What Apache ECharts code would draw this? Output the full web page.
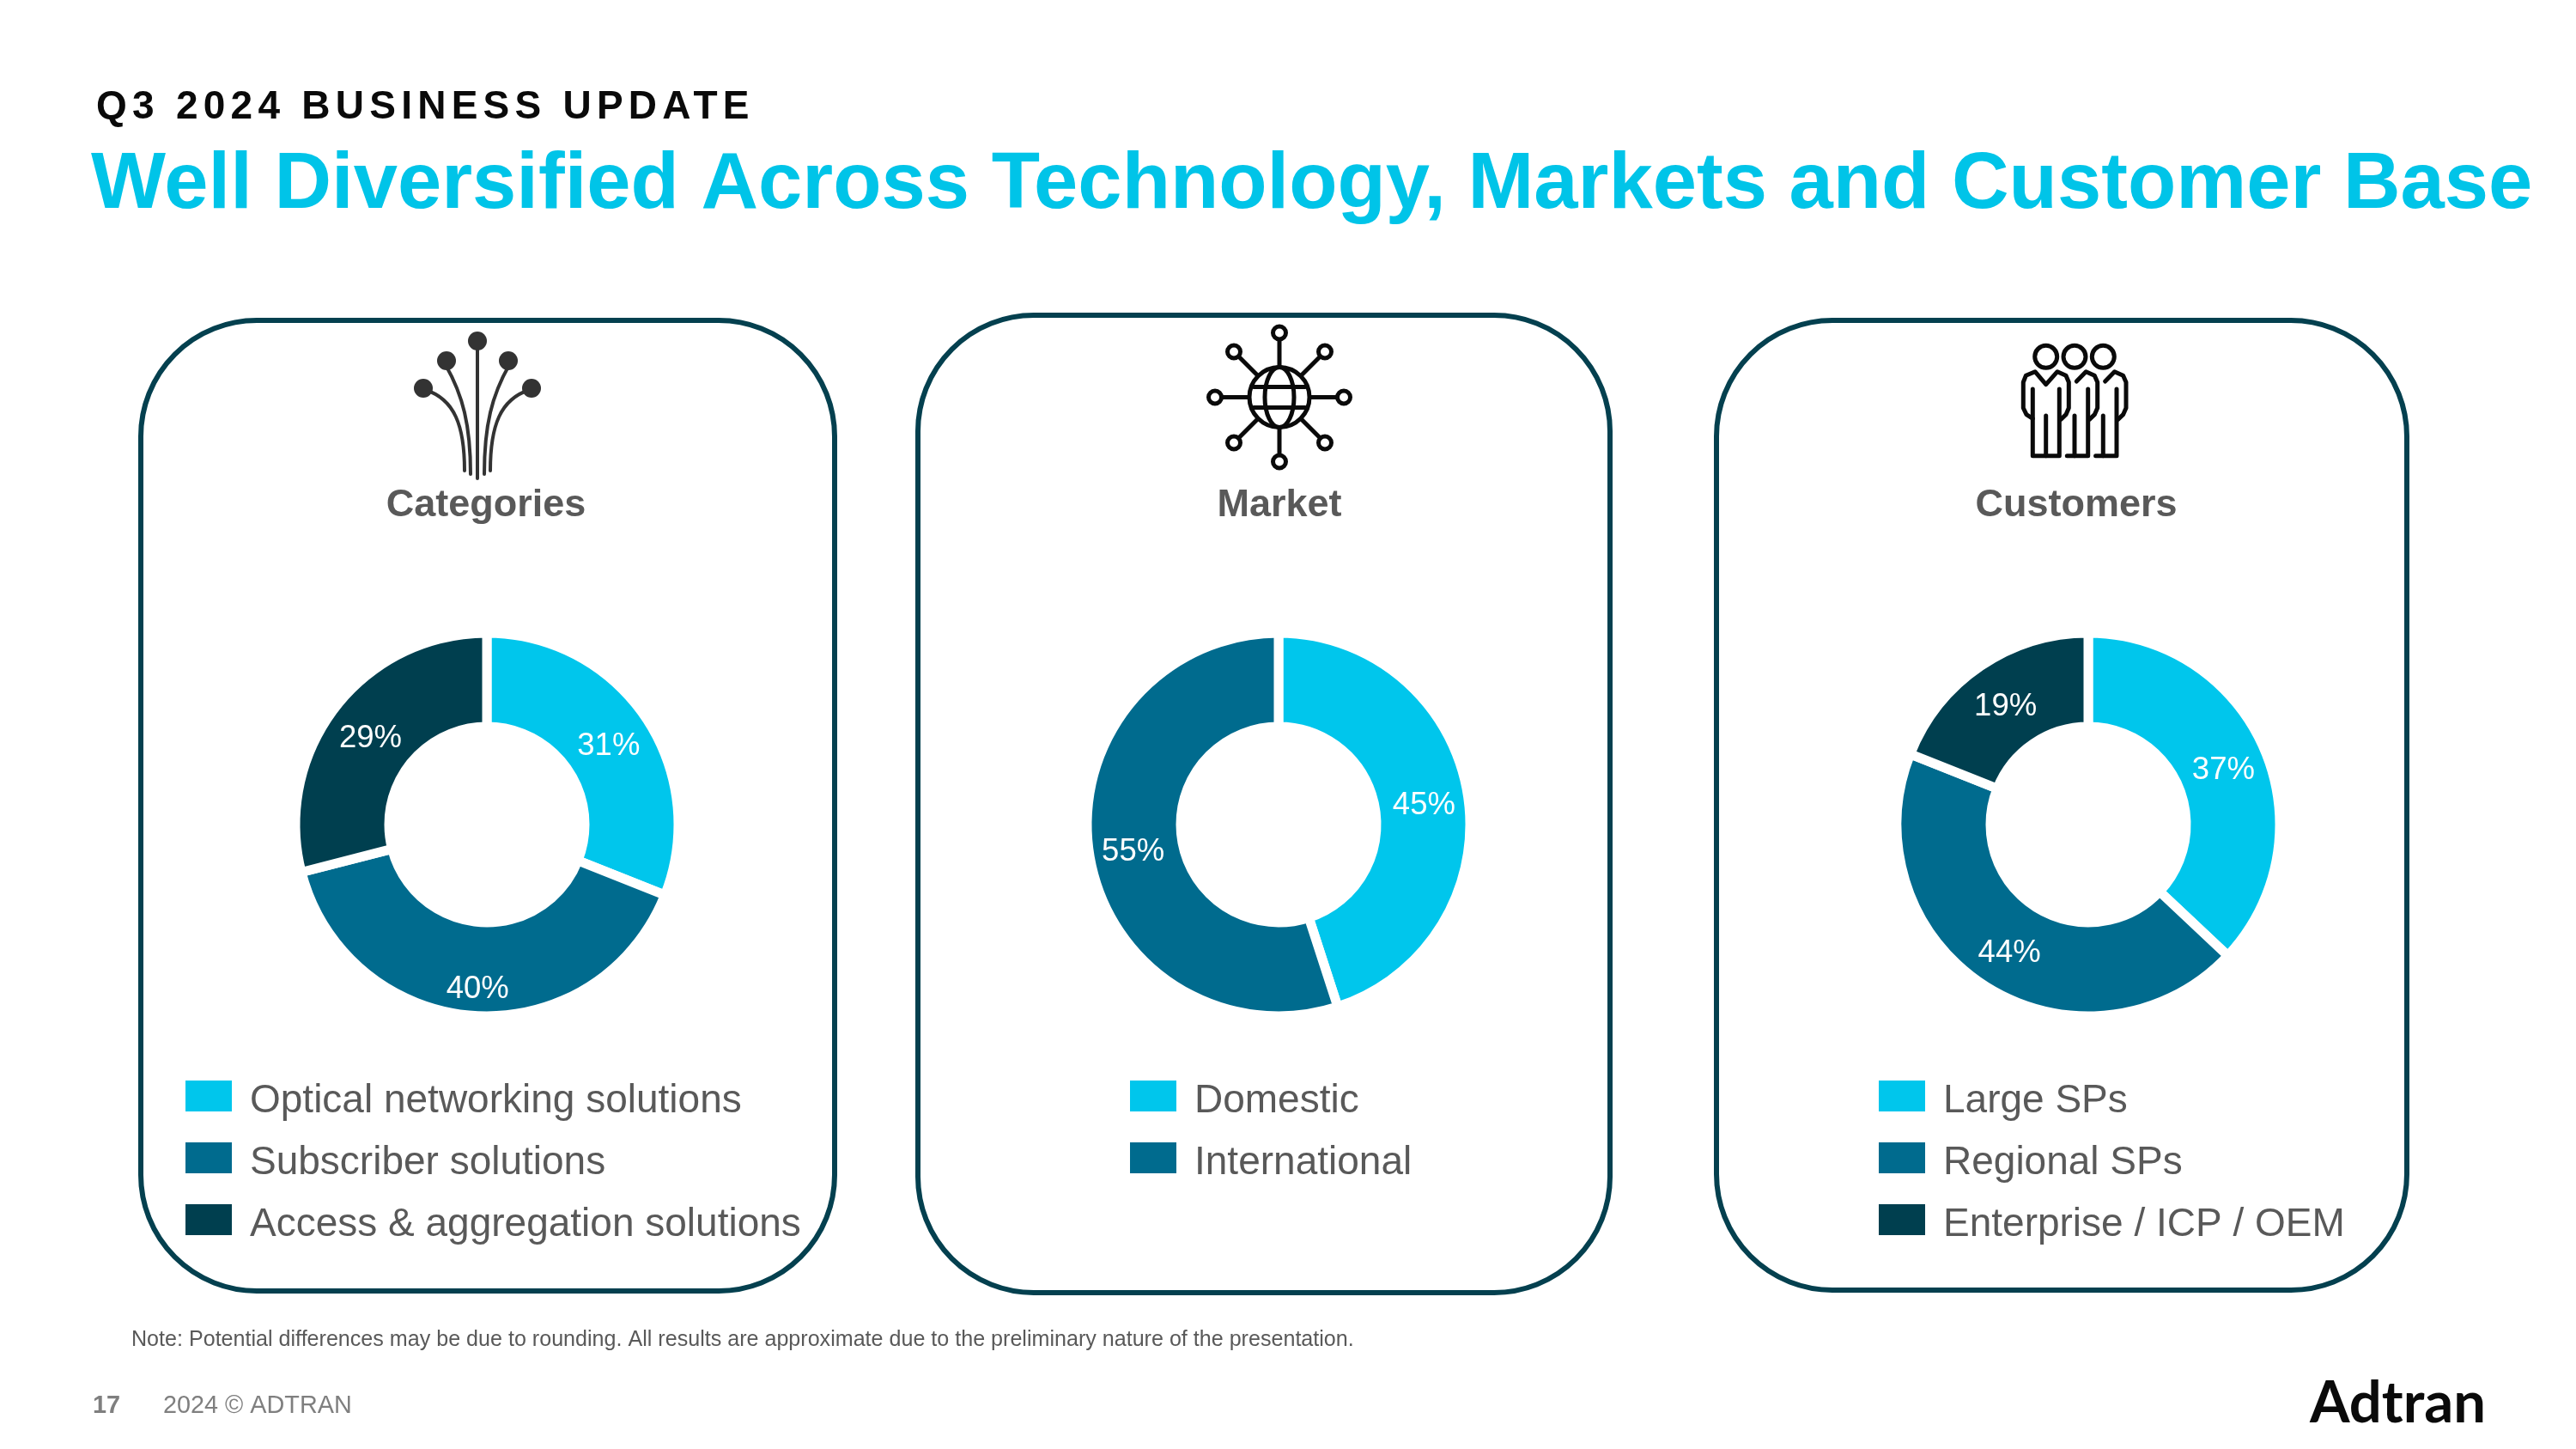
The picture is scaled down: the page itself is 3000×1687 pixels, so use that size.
<!DOCTYPE html>
<html>
<head>
<meta charset="utf-8">
<title>Q3 2024 Business Update</title>
<style>
  html, body { margin: 0; padding: 0; background: #fff; }
  #chart { width: 3000px; height: 1687px; }
  #kicker {
    position: absolute; left: 112px; top: 95px; margin: 0; z-index: 2;
    font: bold 46px "Liberation Sans", Arial, sans-serif;
    letter-spacing: 6.25px; color: #0a0a0a; white-space: nowrap;
  }
</style>
<script src="https://cdn.jsdelivr.net/npm/echarts@6/dist/echarts.min.js"></script>
</head>
<body>
<div id="kicker">Q3 2024 BUSINESS UPDATE</div>
<div id="chart"></div>
<script>
// values
const categoryNames = ['Optical networking solutions', 'Subscriber solutions', 'Access & aggregation solutions']
const categoryValues = [31, 40, 29]
const marketNames = ['Domestic', 'International']
const marketValues = [45, 55]
const customerNames = ['Large SPs', 'Regional SPs', 'Enterprise / ICP / OEM']
const customerValues = [37, 44, 19]
const panelTitles = ['Categories', 'Market', 'Customers']

const CYAN = '#00c6ec'
const MID = '#006b8e'
const DARK = '#003f4f'
const GRAY = '#595959'
const FONT = '"Liberation Sans", Arial, sans-serif'

const pieColors = [CYAN, MID, DARK]
const pieCenters = [[567, 960], [1489, 960], [2432, 960]]
const legendLefts = [216, 1316, 2188]
const titleCenters = [566, 1490, 2418]

const toData = (names, values) => names.map((name, i) => ({
  name,
  value: values[i],
  itemStyle: { color: pieColors[i] }
}))

const pieSeries = (names, values, i) => ({
  type: 'pie',
  center: pieCenters[i],
  radius: [114, 223],
  startAngle: 90,
  clockwise: true,
  silent: true,
  animation: false,
  avoidLabelOverlap: false,
  itemStyle: { borderColor: '#fff', borderWidth: 11 },
  label: {
    show: true,
    position: 'inside',
    formatter: '{c}%',
    color: '#fff',
    fontFamily: FONT,
    fontSize: 36.5
  },
  // the slide's labels sit a little below the ring's middle, the 40% one more so
  labelLayout: params => ({ dy: params.seriesIndex === 0 && params.dataIndex === 1 ? 21 : 5 }),
  labelLine: { show: false },
  emphasis: { disabled: true },
  data: toData(names, values)
})

const legendFor = (names, i) => ({
  orient: 'vertical',
  left: legendLefts[i],
  top: 1258,
  padding: 0,
  itemWidth: 54,
  itemHeight: 36,
  itemGap: 25,
  selectedMode: false,
  icon: 'rect',
  itemStyle: { borderWidth: 0 },
  // rich token: its top padding drops the text a bit below the swatch's middle
  formatter: '{t|{name}}',
  textStyle: {
    rich: {
      t: {
        color: GRAY,
        fontFamily: FONT,
        fontSize: 46,
        padding: [12, 0, 0, 16]
      }
    }
  },
  data: names
})

const titleFor = (text, i) => ({
  text,
  left: titleCenters[i],
  top: 566,
  textAlign: 'center',
  padding: 0,
  textStyle: { color: GRAY, fontFamily: FONT, fontSize: 45, fontWeight: 'bold' }
})

const panel = (x, y, width, height) => ({
  type: 'rect',
  shape: { x, y, width, height, r: 135 },
  style: { fill: 'none', stroke: '#04404f', lineWidth: 6 }
})

const lineStyle = (color, width) => ({
  fill: 'none', stroke: color, lineWidth: width, lineCap: 'round', lineJoin: 'round'
})

const poly = (points, color, width) => ({
  type: 'polyline',
  shape: { points },
  style: lineStyle(color, width)
})

const curve = (x1, y1, cpx1, cpy1, cpx2, cpy2, x2, y2) => ({
  type: 'bezierCurve',
  shape: { x1, y1, cpx1, cpy1, cpx2, cpy2, x2, y2 },
  style: lineStyle('#333', 4)
})

const ring = (cx, cy, r, color, width) => ({
  type: 'circle',
  shape: { cx, cy, r },
  style: { fill: '#fff', stroke: color, lineWidth: width }
})

const dot = (cx, cy) => ({
  type: 'circle',
  shape: { cx, cy, r: 11 },
  style: { fill: '#333' }
})

const label = (text, x, y, size, color, weight) => ({
  type: 'text',
  x,
  y,
  style: { text, fill: color, fontFamily: FONT, fontSize: size, fontWeight: weight || 'normal' }
})

// fibre icon above Categories
const fibreIcon = [
  curve(496, 454, 529, 465, 541, 495, 541, 548),
  curve(519, 425, 539, 460, 548, 495, 548, 552),
  poly([[556, 405], [556, 557]], '#333', 4),
  curve(593, 425, 573, 460, 564, 495, 564, 552),
  curve(616, 454, 583, 465, 571, 495, 571, 548),
  dot(556, 397), dot(520, 420), dot(592, 420), dot(493, 452), dot(619, 452)
]

// globe icon above Market
const globeIcon = (() => {
  const cx = 1490
  const cy = 462.5
  const k = '#0a0a0a'
  const spoke = (dx, dy) => poly([[cx + dx * 0.5, cy + dy * 0.5], [cx + dx, cy + dy]], k, 5)
  const items = []
  ;[[0, -68], [0, 68], [-68, 0], [68, 0], [-48, -48], [48, -48], [-48, 48], [48, 48]].forEach(d => items.push(spoke(d[0], d[1])))
  ;[[0, -75], [0, 75], [-75, 0], [75, 0], [-53, -53], [53, -53], [-53, 53], [53, 53]].forEach(d => items.push(ring(cx + d[0], cy + d[1], 7.5, k, 5)))
  items.push(
    ring(cx, cy, 35, k, 5),
    { type: 'ellipse', shape: { cx, cy, rx: 17, ry: 35 }, style: { fill: 'none', stroke: k, lineWidth: 5 } },
    poly([[cx - 30, cy - 12], [cx + 30, cy - 12]], k, 5),
    poly([[cx - 30, cy + 12], [cx + 30, cy + 12]], k, 5)
  )
  return items
})()

// people icon above Customers
const peopleIcon = (() => {
  const k = '#0a0a0a'
  const w = 5
  const sleeve = [[2429.3, 432.7], [2439.3, 437.3], [2442.7, 445], [2442.7, 475], [2439.3, 482.7], [2433.3, 488.3]]
  const shift = (pts, dx) => pts.map(p => [p[0] + dx, p[1]])
  return [
    ring(2382.7, 415.3, 13, k, 5), ring(2416, 415.3, 13, k, 5), ring(2449.3, 415.3, 13, k, 5),
    poly([[2367.3, 487.3], [2360, 482.7], [2356.3, 475], [2356.3, 445], [2359.3, 437.3], [2370, 432.7], [2382.7, 447.7],
      [2396, 432.7], [2406, 437.3], [2409.3, 445], [2409.3, 475], [2406, 482.7], [2400, 488.3]], k, w),
    poly([[2367.3, 453], [2367.3, 530.7], [2398.3, 530.7], [2398.3, 453]], k, w),
    poly([[2382.7, 484], [2382.7, 530.7]], k, w),
    poly([[2418.3, 444], ...sleeve], k, w),
    poly([[2431.7, 453], [2431.7, 530.7], [2407.3, 530.7]], k, w),
    poly([[2416, 484], [2416, 530.7]], k, w),
    poly([[2451.6, 444], ...shift(sleeve, 33.3)], k, w),
    poly([[2465, 453], [2465, 530.7], [2440.6, 530.7]], k, w),
    poly([[2449.3, 484], [2449.3, 530.7]], k, w)
  ]
})()

const chart = echarts.init(document.getElementById('chart'))

chart.setOption({
  backgroundColor: '#fff',
  animation: false,
  title: [
    {
      text: 'Well Diversified Across Technology, Markets and Customer Base',
      left: 106,
      top: 171,
      padding: 0,
      textStyle: { color: '#00c4e8', fontFamily: FONT, fontSize: 92.2, fontWeight: 'bold' }
    },
    ...panelTitles.map(titleFor)
  ],
  legend: [
    legendFor(categoryNames, 0),
    legendFor(marketNames, 1),
    legendFor(customerNames, 2)
  ],
  series: [
    pieSeries(categoryNames, categoryValues, 0),
    pieSeries(marketNames, marketValues, 1),
    pieSeries(customerNames, customerValues, 2)
  ],
  graphic: [
    panel(164, 373, 808, 1130),
    panel(1069, 367, 806, 1138),
    panel(1999, 373, 804, 1129),
    ...fibreIcon,
    ...globeIcon,
    ...peopleIcon,
    label('Note: Potential differences may be due to rounding. All results are approximate due to the preliminary nature of the presentation.', 153, 1548, 25.1, GRAY),
    label('17', 108, 1623, 28.8, '#7f7f7f', 'bold'),
    label('2024 © ADTRAN', 190, 1623, 28.8, '#7f7f7f'),
    {
      type: 'text',
      x: 2690,
      y: 1601,
      style: { text: 'Adtran', fill: '#0a0a0a', fontFamily: 'Lato, sans-serif', fontSize: 67, fontWeight: 'bold' }
    }
  ]
})
</script>
</body>
</html>
